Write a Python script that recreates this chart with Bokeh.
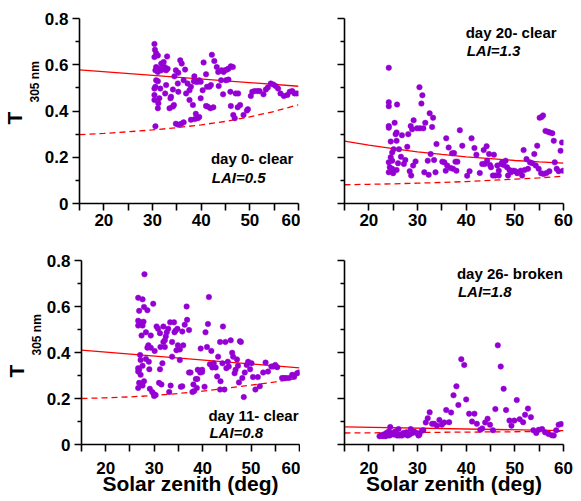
from bokeh.plotting import figure
from bokeh.layouts import column, row
from bokeh.models import FixedTicker, Label, Title
from bokeh.embed import file_html
from bokeh.resources import INLINE

FONT = "Liberation Sans"
DOT = "#9400D3"
RED = "#FF0000"

# ---------------- data ----------------
x_ticks = [20, 30, 40, 50, 60]
x_minor = [15, 25, 35, 45, 55]
y_ticks = [0, 0.2, 0.4, 0.6, 0.8]
y_minor = [0.1, 0.3, 0.5, 0.7]

curve_x = [15, 20, 25, 30, 35, 40, 45, 50, 55, 60]
line_x2 = [15, 60]

# day 0 (top left)
d0_x = [30.4, 30.5, 30.75, 30.4, 31.1, 30.75, 31.4, 30.6, 31.1, 31.8, 32.1, 32.5, 31.8, 32.3, 33.0,
        32.8, 33.1, 30.75, 31.1, 30.6, 30.4, 31.6, 32.8, 32.6, 30.4, 30.4, 31.4, 31.2, 31.1, 30.6,
        33.7, 33.8, 33.5, 34.2, 34.4, 34.2, 34.5, 34.8, 35.3, 35.7, 36.0, 35.2, 35.3, 36.4, 36.7,
        36.9, 37.2, 37.6, 37.9, 37.6, 38.3, 38.6, 38.5, 38.9, 39.3, 39.6, 39.9, 39.9, 40.3, 40.5,
        41.0, 41.2, 41.7, 42.0, 42.2, 42.7, 43.2, 43.5, 44.1, 44.2, 44.6, 44.9, 45.3, 45.6, 46.1,
        46.5, 43.6, 45.1, 45.6, 44.5, 41.0, 41.3, 41.9, 42.5, 38.9, 38.7, 39.6, 39.3, 37.9, 34.8,
        35.3, 35.9, 36.4, 46.0, 47.1, 47.6, 46.1, 46.6, 46.9, 47.5, 48.0, 48.7, 49.4, 49.6, 50.2,
        50.5, 51.0, 51.6, 52.0, 52.8, 53.3, 53.7, 54.3, 54.8, 55.3, 55.8, 56.3, 57.0, 57.7, 58.2,
        58.7, 59.2, 59.7]
d0_y = [0.69, 0.665, 0.65, 0.633, 0.64, 0.59, 0.583, 0.576, 0.569, 0.576, 0.583, 0.59, 0.605, 0.612, 0.636,
        0.576, 0.583, 0.533, 0.529, 0.505, 0.497, 0.497, 0.512, 0.476, 0.469, 0.448, 0.455, 0.433, 0.412, 0.334,
        0.455, 0.462, 0.412, 0.419, 0.426, 0.493, 0.55, 0.576, 0.565, 0.619, 0.605, 0.519, 0.483, 0.533, 0.579,
        0.476, 0.519, 0.49, 0.505, 0.448, 0.426, 0.55, 0.529, 0.526, 0.526, 0.533, 0.526, 0.455, 0.49, 0.61,
        0.559, 0.505, 0.505, 0.512, 0.643, 0.616, 0.59, 0.569, 0.533, 0.576, 0.569, 0.576, 0.579, 0.583, 0.593,
        0.59, 0.508, 0.533, 0.536, 0.472, 0.422, 0.419, 0.412, 0.416, 0.388, 0.365, 0.374, 0.369, 0.362, 0.345,
        0.341, 0.345, 0.351, 0.483, 0.476, 0.476, 0.422, 0.383, 0.369, 0.416, 0.426, 0.383, 0.402, 0.408, 0.465,
        0.483, 0.486, 0.486, 0.486, 0.472, 0.493, 0.502, 0.519, 0.515, 0.508, 0.497, 0.476, 0.465, 0.469, 0.483,
        0.486, 0.476, 0.476]
d0_solid = [0.578, 0.507]
d0_dashed = [0.298, 0.303, 0.310, 0.318, 0.328, 0.340, 0.355, 0.375, 0.398, 0.427]

# day 20 (top right)
d20_x = [24.1, 24.1, 24.1, 24.1, 24.1, 25.8, 25.3, 25.5, 25.7, 25.7, 24.5, 25.1, 24.8, 24.5, 24.1,
         24.8, 24.3, 24.8, 24.1, 25.0, 26.2, 26.6, 26.0, 25.7, 26.8, 27.2, 27.5, 27.9, 28.1, 28.6,
         28.9, 29.2, 28.4, 28.7, 29.6, 29.1, 29.9, 30.4, 31.0, 30.8, 30.5, 31.2, 31.6, 32.5, 33.2,
         33.0, 33.9, 32.7, 32.1, 33.4, 33.7, 31.4, 32.3, 35.1, 35.5, 35.9, 35.8, 36.4, 36.1, 36.8,
         37.1, 37.5, 37.3, 37.8, 38.2, 38.0, 38.7, 39.2, 40.2, 40.7, 41.1, 41.7, 42.1, 42.8, 43.3,
         43.6, 44.2, 44.7, 43.8, 44.3, 44.9, 45.1, 45.7, 45.5, 46.0, 46.4, 46.7, 46.7, 47.2, 47.4,
         47.7, 48.1, 48.4, 48.6, 48.9, 49.2, 49.7, 50.1, 50.5, 51.2, 51.5, 51.8, 52.0, 52.4, 52.7,
         53.1, 53.6, 54.0, 54.3, 54.6, 54.9, 55.1, 55.5, 55.8, 55.4, 55.9, 56.5, 57.1, 56.3, 56.8,
         57.2, 57.7, 58.0, 58.2, 58.6, 59.0, 59.7, 59.9, 59.4]
d20_y = [0.587, 0.438, 0.421, 0.335, 0.328, 0.428, 0.349, 0.300, 0.307, 0.271, 0.268, 0.235, 0.221, 0.200, 0.178,
         0.185, 0.157, 0.150, 0.135, 0.131, 0.235, 0.202, 0.174, 0.145, 0.295, 0.171, 0.188, 0.245, 0.300, 0.335,
         0.321, 0.360, 0.140, 0.121, 0.182, 0.164, 0.325, 0.503, 0.468, 0.432, 0.325, 0.325, 0.349, 0.390, 0.371,
         0.331, 0.257, 0.214, 0.185, 0.188, 0.135, 0.135, 0.124, 0.181, 0.178, 0.282, 0.142, 0.242, 0.164, 0.154,
         0.217, 0.218, 0.150, 0.181, 0.181, 0.142, 0.317, 0.250, 0.120, 0.140, 0.282, 0.240, 0.211, 0.132, 0.171,
         0.231, 0.248, 0.214, 0.171, 0.185, 0.167, 0.157, 0.211, 0.121, 0.121, 0.164, 0.142, 0.121, 0.171, 0.178,
         0.167, 0.185, 0.157, 0.121, 0.145, 0.135, 0.142, 0.140, 0.131, 0.142, 0.121, 0.231, 0.145, 0.192, 0.150,
         0.178, 0.174, 0.214, 0.164, 0.250, 0.150, 0.371, 0.374, 0.381, 0.131, 0.128, 0.132, 0.140, 0.314, 0.310,
         0.307, 0.304, 0.271, 0.178, 0.150, 0.140, 0.264, 0.142, 0.228]
d20_solid = [0.270, 0.252, 0.237, 0.223, 0.212, 0.202, 0.194, 0.186, 0.180, 0.175]
d20_dashed = [0.081, 0.083, 0.085, 0.088, 0.091, 0.095, 0.100, 0.105, 0.111, 0.118]

# day 11 (bottom left)
d11_x = [28.0, 26.7, 27.6, 29.8, 41.3, 27.9, 28.6, 26.9, 26.7, 27.2, 27.8, 26.7, 27.6, 28.3, 27.4,
         29.3, 30.5, 30.8, 31.2, 31.9, 32.6, 33.3, 34.1, 32.9, 34.4, 34.2, 34.8, 35.8, 36.3, 36.8,
         37.2, 36.7, 41.1, 40.6, 44.2, 32.2, 32.4, 31.9, 31.3, 32.2, 28.8, 29.3, 30.1, 28.6, 34.9,
         34.6, 35.3, 36.0, 33.7, 27.1, 27.2, 28.3, 28.9, 27.6, 26.7, 26.9, 26.7, 29.0, 27.2, 27.9,
         26.9, 26.7, 27.6, 29.1, 29.6, 30.0, 30.3, 30.0, 31.0, 31.5, 31.2, 31.7, 33.1, 33.4, 33.7,
         35.3, 35.5, 35.8, 37.2, 37.5, 37.9, 38.2, 38.1, 38.6, 38.9, 39.0, 38.8, 39.6, 39.5, 39.9,
         39.9, 40.4, 40.9, 41.5, 42.0, 41.8, 42.3, 42.7, 43.0, 43.2, 43.6, 43.7, 43.6, 44.1, 44.5,
         44.7, 44.9, 45.2, 45.4, 45.8, 46.1, 46.3, 46.6, 46.8, 47.1, 47.3, 47.5, 47.7, 47.9, 48.2,
         48.5, 48.7, 49.1, 49.4, 49.8, 50.1, 50.4, 50.9, 51.4, 51.8, 52.5, 53.0, 53.5, 54.2, 54.6,
         55.0, 55.4, 56.4, 56.8, 57.2, 57.8, 58.5, 58.9, 59.5, 59.9]
d11_y = [0.740, 0.638, 0.631, 0.612, 0.641, 0.598, 0.584, 0.581, 0.538, 0.531, 0.534, 0.517, 0.517, 0.488, 0.474,
         0.474, 0.513, 0.503, 0.484, 0.513, 0.488, 0.531, 0.531, 0.503, 0.495, 0.488, 0.503, 0.491, 0.521, 0.542,
         0.498, 0.600, 0.524, 0.488, 0.513, 0.453, 0.470, 0.446, 0.424, 0.424, 0.431, 0.421, 0.407, 0.421, 0.431,
         0.410, 0.413, 0.431, 0.446, 0.389, 0.367, 0.372, 0.360, 0.342, 0.332, 0.325, 0.317, 0.327, 0.303, 0.275,
         0.268, 0.246, 0.256, 0.242, 0.228, 0.211, 0.215, 0.218, 0.268, 0.261, 0.327, 0.353, 0.228, 0.256, 0.382,
         0.367, 0.251, 0.253, 0.313, 0.313, 0.228, 0.232, 0.261, 0.285, 0.285, 0.325, 0.246, 0.417, 0.313, 0.325,
         0.315, 0.251, 0.424, 0.349, 0.335, 0.407, 0.353, 0.335, 0.296, 0.382, 0.446, 0.275, 0.239, 0.353, 0.239,
         0.446, 0.332, 0.360, 0.339, 0.453, 0.399, 0.382, 0.310, 0.325, 0.370, 0.342, 0.270, 0.449, 0.446, 0.289,
         0.206, 0.313, 0.346, 0.360, 0.327, 0.353, 0.293, 0.239, 0.293, 0.253, 0.313, 0.356, 0.317, 0.339, 0.339,
         0.346, 0.336, 0.289, 0.289, 0.289, 0.289, 0.303, 0.296, 0.310, 0.313]
d11_solid = [0.410, 0.333]
d11_dashed = [0.200, 0.203, 0.207, 0.213, 0.222, 0.232, 0.245, 0.258, 0.272, 0.288]

# day 26 (bottom right)
d26_x = [46.5, 39.0, 39.6, 47.1, 38.0, 47.7, 37.4, 40.0, 50.4, 38.4, 35.9, 36.9, 32.5, 46.0, 48.2,
         52.7, 40.6, 41.7, 44.4, 52.1, 53.3, 32.1, 31.7, 33.0, 33.4, 34.0, 34.5, 35.0, 35.5, 36.5,
         41.2, 42.2, 43.9, 44.9, 48.9, 49.9, 51.0, 51.7, 49.3, 42.9, 43.3, 45.5, 53.8, 54.4, 54.9,
         55.6, 56.2, 56.9, 57.6, 58.0, 58.5, 59.0, 59.5, 30.9, 31.2, 30.4, 29.9, 29.3, 28.6, 27.7,
         27.1, 26.6, 26.1, 25.6, 25.2, 24.7, 24.4, 24.1, 23.6, 23.0, 22.5, 22.2, 22.9, 23.4, 23.8,
         24.3, 25.1, 25.8, 26.3, 26.8, 27.5, 28.0, 28.4, 29.0, 30.2, 25.4]
d26_y = [0.431, 0.371, 0.346, 0.339, 0.253, 0.242, 0.214, 0.196, 0.193, 0.172, 0.150, 0.139, 0.140, 0.154, 0.150,
         0.156, 0.134, 0.134, 0.112, 0.129, 0.119, 0.114, 0.096, 0.090, 0.090, 0.082, 0.107, 0.086, 0.096, 0.097,
         0.100, 0.090, 0.096, 0.086, 0.104, 0.104, 0.110, 0.097, 0.082, 0.064, 0.070, 0.062, 0.062, 0.050, 0.064,
         0.067, 0.053, 0.046, 0.040, 0.039, 0.062, 0.086, 0.089, 0.060, 0.062, 0.043, 0.050, 0.056, 0.067, 0.053,
         0.050, 0.043, 0.067, 0.050, 0.047, 0.050, 0.076, 0.057, 0.050, 0.043, 0.039, 0.036, 0.036, 0.036, 0.039,
         0.039, 0.043, 0.039, 0.039, 0.039, 0.043, 0.039, 0.043, 0.050, 0.039, 0.057]
d26_solid = [0.077, 0.060]
d26_dashed = [0.050, 0.057]

panel_titles = ["day 0- clear", "day 20- clear", "day 11- clear", "day 26- broken"]
panel_lai = ["LAI=0.5", "LAI=1.3", "LAI=0.8", "LAI=1.8"]
x_title = "Solar zenith (deg)"
y_title_main = "T"
y_title_sub = "305 nm"


def make_panel(xs, ys, sx, sy, dx, dy, title, lai, tpos, size, borders,
               left_labels, bottom_title, ytitle_offsets=None):
    w, h = size
    bl, br, bt, bb = borders
    p = figure(width=w, height=h, x_range=(15, 60), y_range=(0, 0.8),
               output_backend="svg", toolbar_location=None,
               min_border_left=bl, min_border_right=br,
               min_border_top=bt, min_border_bottom=bb)
    p.grid.visible = False
    p.outline_line_color = None
    p.background_fill_color = "white"
    p.border_fill_color = "white"

    xa = p.xaxis[0]
    xa.ticker = FixedTicker(ticks=x_ticks, minor_ticks=x_minor)
    ya = p.yaxis[0]
    ya.ticker = FixedTicker(ticks=y_ticks, minor_ticks=y_minor)
    for ax in (xa, ya):
        ax.axis_line_width = 1.6
        ax.axis_line_color = "black"
        ax.major_tick_line_width = 1.6
        ax.minor_tick_line_width = 1.6
        ax.major_tick_line_color = "black"
        ax.minor_tick_line_color = "black"
        ax.major_tick_in = 0
        ax.minor_tick_in = 0
        ax.major_tick_out = 7
        ax.major_label_text_font = FONT
        ax.major_label_text_font_style = "bold"
        ax.major_label_text_font_size = "17px"
        ax.major_label_text_color = "black"
    xa.minor_tick_out = 7
    ya.minor_tick_out = 4
    xa.major_label_standoff = 3
    ya.major_label_standoff = 4
    if left_labels:
        ya.major_label_overrides = {0: "0"}
    else:
        ya.major_label_overrides = {0: "", 0.2: "", 0.4: "", 0.6: "", 0.8: ""}
    if bottom_title:
        xa.major_label_standoff = 10
        xa.axis_label = x_title
        xa.axis_label_text_font = FONT
        xa.axis_label_text_font_style = "bold"
        xa.axis_label_text_font_size = "21px"
        xa.axis_label_text_color = "black"
        xa.axis_label_standoff = -5

    if ytitle_offsets is not None:
        off_sub, off_main = ytitle_offsets
        p.add_layout(Title(text=y_title_sub, align="left", offset=off_sub, standoff=0,
                           text_font=FONT, text_font_style="bold", text_font_size="12px",
                           text_color="black"), "left")
        p.add_layout(Title(text=y_title_main, align="left", offset=off_main, standoff=0,
                           text_font=FONT, text_font_style="bold", text_font_size="21px",
                           text_color="black"), "left")

    p.line(sx, sy, line_color=RED, line_width=1.3)
    p.line(dx, dy, line_color=RED, line_width=1.3, line_dash="6 4")
    p.scatter(xs, ys, size=5.5, fill_color=DOT, line_color=DOT, line_width=0.5)

    tx, ty1, ty2 = tpos
    p.add_layout(Label(x=tx, y=ty1, text=title, text_font=FONT, text_font_style="bold",
                       text_font_size="15px", text_color="black",
                       text_align="left", text_baseline="middle"))
    p.add_layout(Label(x=tx + 0.2, y=ty2, text=lai, text_font=FONT,
                       text_font_style="bold italic", text_font_size="15px",
                       text_color="black", text_align="left", text_baseline="middle"))
    return p


p1 = make_panel(d0_x, d0_y, line_x2, d0_solid, curve_x, d0_dashed,
                panel_titles[0], panel_lai[0], (42.0, 0.193, 0.112),
                (300, 234), (78, 2, 16, 31), True, False, (101, 79))
p2 = make_panel(d20_x, d20_y, curve_x, d20_solid, curve_x, d20_dashed,
                panel_titles[1], panel_lai[1], (39.9, 0.740, 0.663),
                (281, 234), (44, 18, 18, 29), False, False)
p3 = make_panel(d11_x, d11_y, line_x2, d11_solid, curve_x, d11_dashed,
                panel_titles[2], panel_lai[2], (41.2, 0.124, 0.053),
                (300, 267), (81, 1, 23, 57), True, True, (89, 67))
p4 = make_panel(d26_x, d26_y, line_x2, d26_solid, line_x2, d26_dashed,
                panel_titles[3], panel_lai[3], (38.1, 0.743, 0.664),
                (281, 267), (44, 18, 26, 54), False, True)

layout = column(row(p1, p2), row(p3, p4))
open("out.html", "w").write(file_html(layout, INLINE))
